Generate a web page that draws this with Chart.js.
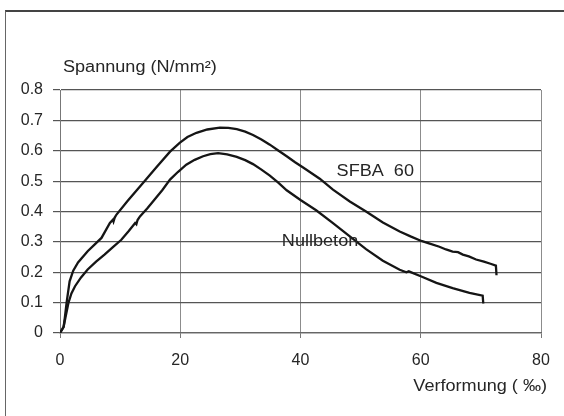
<!DOCTYPE html>
<html>
<head>
<meta charset="utf-8">
<script src="https://cdn.jsdelivr.net/npm/chart.js@4"></script>
<style>
    html, body { margin: 0; padding: 0; background: #fff; }
    .wrap { position: relative; width: 564px; height: 416px; overflow: hidden; }
    .frame {
        position: absolute; left: 5px; top: 10px; width: 620px; height: 460px;
        border-top: 2px solid #444; border-left: 1.5px solid #666;
    }
    #chart { position: absolute; left: 0; top: 0; }
</style>
</head>
<body>
<div class="wrap">
    <div class="frame"></div>
    <canvas id="chart" width="564" height="416"></canvas>
</div>
<script>
// Verformung (‰) / Spannung (N/mm²) – SFBA 60
const sfbaStrain = [0, 0.3, 0.6, 0.8, 1.1, 1.6, 2.2, 3.0, 4.6, 6.9, 8.3, 8.8, 8.9, 9.1, 9.4, 11.3, 13.8, 16.0, 18.3, 19.9,
    21.2, 22.7, 24.5, 26.6, 28.0, 29.4, 30.8, 32.1, 33.5, 34.9, 36.3, 37.7, 39.1, 40.5, 43.2, 45.4, 48.2, 50.9, 53.7, 56.5,
    58.3, 60.1, 61.5, 63.1, 64.2, 65.3, 66.2, 67.0, 68.0, 69.2, 70.5, 71.6, 72.5, 72.6];
const sfbaStress = [0, 0.01, 0.02, 0.05, 0.10, 0.17, 0.205, 0.232, 0.269, 0.313, 0.362, 0.373, 0.367, 0.380, 0.390, 0.436, 0.494, 0.545, 0.597, 0.626,
    0.645, 0.659, 0.670, 0.676, 0.675, 0.671, 0.663, 0.652, 0.637, 0.620, 0.601, 0.582, 0.562, 0.544, 0.508, 0.472, 0.433, 0.400, 0.364, 0.334,
    0.318, 0.303, 0.294, 0.284, 0.275, 0.268, 0.266, 0.258, 0.252, 0.242, 0.235, 0.228, 0.222, 0.19];

// Nullbeton
const nullStrain = [0, 0.3, 0.6, 0.9, 1.4, 1.9, 2.5, 3.5, 4.6, 6.0, 7.4, 8.8, 10.2, 11.4, 12.5, 12.7, 12.9, 13.3, 14.5, 15.7,
    17.0, 18.3, 19.6, 21.0, 22.4, 23.8, 25.0, 26.3, 27.8, 29.4, 30.8, 32.1, 33.5, 34.9, 36.3, 37.7, 40.0, 42.6, 45.4, 48.2,
    50.9, 53.7, 56.5, 57.6, 58.0, 60.1, 62.6, 65.3, 68.1, 70.3, 70.4];
const nullStress = [0, 0.01, 0.02, 0.05, 0.099, 0.13, 0.154, 0.183, 0.209, 0.235, 0.258, 0.283, 0.307, 0.335, 0.362, 0.358, 0.372, 0.384, 0.41, 0.439,
    0.47, 0.505, 0.53, 0.554, 0.57, 0.582, 0.589, 0.592, 0.588, 0.580, 0.569, 0.556, 0.538, 0.518, 0.495, 0.470, 0.438, 0.404, 0.362, 0.318,
    0.276, 0.238, 0.208, 0.200, 0.203, 0.186, 0.165, 0.148, 0.132, 0.123, 0.097];

// curve names, placed at (strain, stress) of their baseline start
const curveNames = ['SFBA  60', 'Nullbeton'];
const curveNameX = [46.0, 36.9];
const curveNameY = [0.516, 0.285];

const xTitle = 'Verformung ( ‰)';
const yTitle = 'Spannung (N/mm²)';

const FONT = '"Liberation Sans", Arial, sans-serif';
const TEXT = '#262626';
const STRETCH = 1.13;

const toPoints = (xs, ys) => xs.map((x, i) => ({ x, y: ys[i] }));

function stretchedText(ctx, text, x, y, align) {
    ctx.save();
    ctx.translate(x, y);
    ctx.scale(STRETCH, 1);
    ctx.textAlign = align;
    ctx.textBaseline = 'alphabetic';
    ctx.fillText(text, 0, 0);
    ctx.restore();
}

const textPlugin = {
    id: 'labels',
    afterDraw(chart) {
        const { ctx, chartArea, scales } = chart;
        ctx.save();
        ctx.fillStyle = TEXT;
        ctx.font = '16px ' + FONT;
        stretchedText(ctx, yTitle, chartArea.left + 3, chartArea.top - 18, 'left');
        stretchedText(ctx, xTitle, chartArea.right + 6, chartArea.bottom + 58, 'right');
        curveNames.forEach((name, i) => {
            stretchedText(ctx, name, scales.x.getPixelForValue(curveNameX[i]),
                scales.y.getPixelForValue(curveNameY[i]), 'left');
        });
        ctx.restore();
    },
};

const lineStyle = { showLine: true, pointRadius: 0, borderColor: '#151515', borderWidth: 2.3, tension: 0, fill: false };

new Chart(document.getElementById('chart').getContext('2d'), {
    type: 'scatter',
    data: {
        datasets: [
            { label: curveNames[0], data: toPoints(sfbaStrain, sfbaStress), ...lineStyle },
            { label: curveNames[1], data: toPoints(nullStrain, nullStress), ...lineStyle },
        ],
    },
    options: {
        responsive: false,
        animation: false,
        devicePixelRatio: 1,
        layout: { padding: { top: 90, right: 23, left: 0, bottom: 0 } },
        plugins: { legend: { display: false }, tooltip: { enabled: false } },
        scales: {
            x: {
                type: 'linear', min: 0, max: 80,
                afterFit: (s) => { s.height = 83; },
                ticks: { stepSize: 20, padding: 13, color: TEXT, font: { family: FONT, size: 16 } },
                grid: { color: '#8c8c8c', lineWidth: 1, tickLength: 5, tickColor: '#777' },
                border: { color: '#666', width: 1.3 },
            },
            y: {
                type: 'linear', min: 0, max: 0.8,
                afterFit: (s) => { s.width = 60; },
                ticks: {
                    stepSize: 0.1, padding: 10, color: TEXT, font: { family: FONT, size: 16 },
                    callback: (v) => (Math.abs(v) < 1e-9 ? '0' : v.toFixed(1)),
                },
                grid: { color: '#555', lineWidth: 1.2, tickLength: 7, tickColor: '#555' },
                border: { color: '#777', width: 1 },
            },
        },
    },
    plugins: [textPlugin],
});
</script>
</body>
</html>
